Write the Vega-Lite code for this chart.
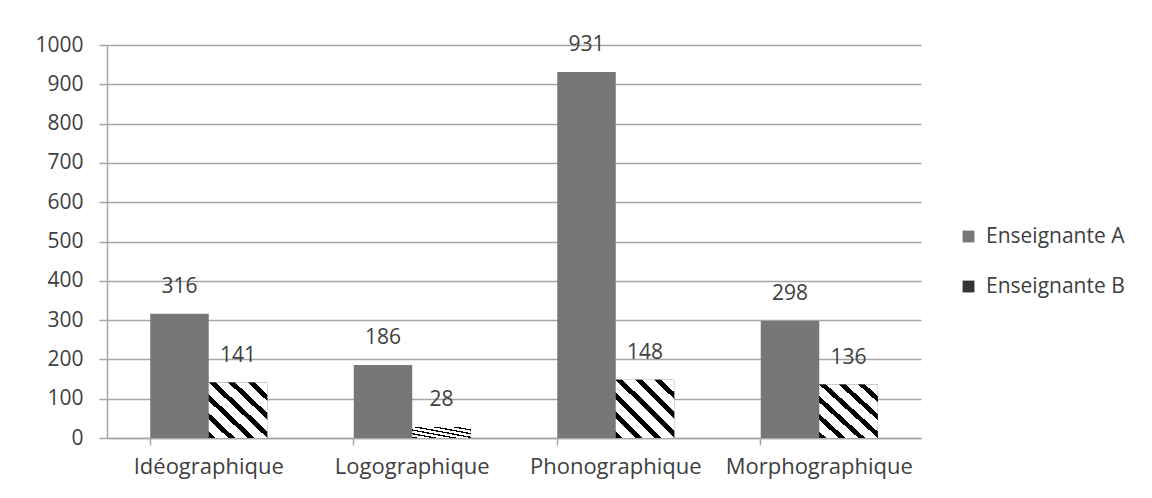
{
"$schema":"https://vega.github.io/schema/vega-lite/v6.json",
"width":814,"height":393,
"autosize":{"type":"none"},
"padding":{"left":107,"top":45,"right":231,"bottom":60},
"background":"white",
"config":{"view":{"stroke":null},"font":"Open Sans",
 "axis":{"gridColor":"#a6a6a6","domainColor":"#a6a6a6","tickColor":"#a6a6a6","labelColor":"#404040","labelFont":"Open Sans","labelFontSize":21,"gridWidth":1.5,"domainWidth":1.5,"tickWidth":1.5},
 "legend":{"labelFont":"Open Sans","labelFontSize":21,"labelColor":"#404040"}},
"data":{"values":[
 {"cat":"Idéographique","series":"Enseignante A","value":316},
 {"cat":"Idéographique","series":"Enseignante B","value":141},
 {"cat":"Logographique","series":"Enseignante A","value":186},
 {"cat":"Logographique","series":"Enseignante B","value":28},
 {"cat":"Phonographique","series":"Enseignante A","value":931},
 {"cat":"Phonographique","series":"Enseignante B","value":148},
 {"cat":"Morphographique","series":"Enseignante A","value":298},
 {"cat":"Morphographique","series":"Enseignante B","value":136}
]},
"encoding":{
 "x":{"field":"cat","type":"nominal","sort":["Idéographique","Logographique","Phonographique","Morphographique"],
  "scale":{"paddingInner":0.425,"paddingOuter":0.2125},
  "axis":{"title":null,"labelAngle":0,"bandPosition":0,"tickSize":7,"labelPadding":11,"labelFontSize":22,"labelLimit":400,"grid":false}},
 "xOffset":{"field":"series","type":"nominal","sort":["Enseignante A","Enseignante B"]},
 "y":{"field":"value","type":"quantitative","scale":{"domain":[0,1000],"nice":false},
  "axis":{"title":null,"format":"d","values":[0,100,200,300,400,500,600,700,800,900,1000],"tickSize":8,"labelPadding":16}}
},
"layer":[
 {"mark":{"type":"bar"},
  "encoding":{"color":{"field":"series","type":"nominal","scale":{"domain":["Enseignante A","Enseignante B"],"range":["#777777","#333333"]},
   "legend":{"title":null,"orient":"none","legendX":851,"legendY":181,"symbolType":"square","symbolSize":140,"rowPadding":28,"labelOffset":7,"labelLimit":400,"symbolStrokeWidth":0}}}},
 {"transform":[{"filter":"datum.series === 'Enseignante B'"}],
  "mark":{"type":"bar","fill":{"gradient":"linear","x1":0,"y1":1,"x2":1,"y2":0,"stops":[
   {"offset":0,"color":"#000"},{"offset":0.06,"color":"#000"},{"offset":0.06,"color":"#fff"},{"offset":0.1667,"color":"#fff"},
   {"offset":0.1667,"color":"#000"},{"offset":0.2267,"color":"#000"},{"offset":0.2267,"color":"#fff"},{"offset":0.3333,"color":"#fff"},
   {"offset":0.3333,"color":"#000"},{"offset":0.3933,"color":"#000"},{"offset":0.3933,"color":"#fff"},{"offset":0.5,"color":"#fff"},
   {"offset":0.5,"color":"#000"},{"offset":0.56,"color":"#000"},{"offset":0.56,"color":"#fff"},{"offset":0.6667,"color":"#fff"},
   {"offset":0.6667,"color":"#000"},{"offset":0.7267,"color":"#000"},{"offset":0.7267,"color":"#fff"},{"offset":0.8333,"color":"#fff"},
   {"offset":0.8333,"color":"#000"},{"offset":0.8933,"color":"#000"},{"offset":0.8933,"color":"#fff"},{"offset":1,"color":"#fff"}]}}},
 {"mark":{"type":"text","dy":-27,"fontSize":21,"font":"Open Sans","color":"#404040"},
  "encoding":{"text":{"field":"value","type":"quantitative"}}}
]
}
